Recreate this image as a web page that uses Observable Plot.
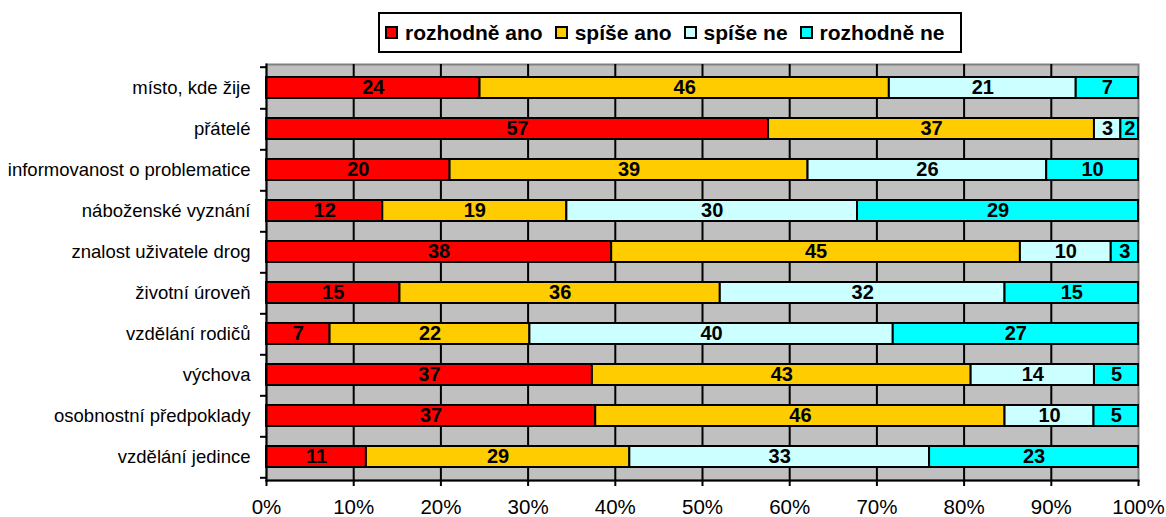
<!DOCTYPE html>
<html>
<head>
<meta charset="utf-8">
<script src="https://cdn.jsdelivr.net/npm/d3@7"></script>
<script src="https://cdn.jsdelivr.net/npm/@observablehq/plot@0.6"></script>
<style>
  body { margin: 0; background: white; font-family: Arial, "Liberation Sans", sans-serif; }
  #wrap { position: relative; width: 1166px; height: 517px; }
  #legend { position: absolute; left: 378px; top: 12px; width: 575px; padding-left: 5px; height: 37px;
    border: 2px solid black; display: flex; align-items: center; justify-content: flex-start;
    font-weight: bold; font-size: 21px; color: black; box-sizing: content-box; }
  .item { display: flex; align-items: center; margin-right: 12px; }
  .sw { width: 9px; height: 9px; border: 2px solid black; margin-right: 7px; }
  #chart { position: absolute; left: 0; top: 60px; }
</style>
</head>
<body>
<div id="wrap">
  <div id="legend"></div>
  <div id="chart"></div>
</div>
<script>
const categories = ["místo, kde žije", "přátelé", "informovanost o problematice", "náboženské vyznání",
  "znalost uživatele drog", "životní úroveň", "vzdělání rodičů", "výchova",
  "osobnostní předpoklady", "vzdělání jedince"];
const series = ["rozhodně ano", "spíše ano", "spíše ne", "rozhodně ne"];
const colors = ["#ff0000", "#ffcc00", "#ccffff", "#00ffff"];
const rozhodneAno = [24, 57, 20, 12, 38, 15, 7, 37, 37, 11];
const spiseAno    = [46, 37, 39, 19, 45, 36, 22, 43, 46, 29];
const spiseNe     = [21, 3, 26, 30, 10, 32, 40, 14, 10, 33];
const rozhodneNe  = [7, 2, 10, 29, 3, 15, 27, 5, 5, 23];
const xTicks = [0, 0.1, 0.2, 0.3, 0.4, 0.5, 0.6, 0.7, 0.8, 0.9, 1];
const xTickLabels = ["0%", "10%", "20%", "30%", "40%", "50%", "60%", "70%", "80%", "90%", "100%"];

const seriesValues = [rozhodneAno, spiseAno, spiseNe, rozhodneNe];
const data = categories.flatMap((c, i) => series.map((s, j) => ({cat: c, series: s, value: seriesValues[j][i]})));

// legend
const legend = document.getElementById("legend");
series.forEach((s, j) => {
  const it = document.createElement("div");
  it.className = "item";
  const sw = document.createElement("div");
  sw.className = "sw";
  sw.style.background = colors[j];
  const t = document.createElement("span");
  t.textContent = s;
  it.appendChild(sw); it.appendChild(t);
  legend.appendChild(it);
});

const W = 1166, H = 457, mL = 266, mR = 28, mT = 4, mB = 37;
const step = (H - mT - mB) / categories.length;
const tickLen = 6 / (W - mL - mR);
const fmt = d => xTickLabels[xTicks.findIndex(t => Math.abs(t - d) < 1e-9)];

const chart = Plot.plot({
  width: W, height: H,
  marginLeft: mL, marginRight: mR, marginTop: mT, marginBottom: mB,
  style: {fontFamily: "Arial, 'Liberation Sans', sans-serif", background: "white", color: "black", overflow: "visible"},
  x: {domain: [0, 1], label: null},
  y: {domain: categories, paddingInner: 0.5, paddingOuter: 0.25, label: null},
  color: {domain: series, range: colors},
  marks: [
    Plot.frame({fill: "#c0c0c0", stroke: "#808080", strokeWidth: 2}),
    Plot.ruleX(xTicks.slice(1, -1), {stroke: "black", strokeWidth: 2}),
    Plot.barX(data, Plot.stackX({y: "cat", x: "value", fill: "series", offset: "normalize", stroke: "black", strokeWidth: 2})),
    Plot.text(data, Plot.stackX({y: "cat", x: "value", z: "series", text: "value", offset: "normalize",
      fill: "black", fontWeight: "bold", fontSize: 20})),
    Plot.frame({anchor: "left", stroke: "black", strokeWidth: 2}),
    Plot.frame({anchor: "bottom", stroke: "black", strokeWidth: 2}),
    Plot.ruleY(categories, {y: d => d, x1: -tickLen, x2: 0, dy: step / 2, stroke: "black", strokeWidth: 2}),
    Plot.ruleY([categories[0]], {y: d => d, x1: -tickLen, x2: 0, dy: -step / 2, stroke: "black", strokeWidth: 2}),
    Plot.axisX({ticks: xTicks, tickFormat: fmt, tickSize: 6, tickPadding: 13, fontSize: 20.5, strokeWidth: 2}),
    Plot.axisY({tickSize: 0, tickPadding: 16, fontSize: 18.5})
  ]
});
document.getElementById("chart").appendChild(chart);
</script>
</body>
</html>
